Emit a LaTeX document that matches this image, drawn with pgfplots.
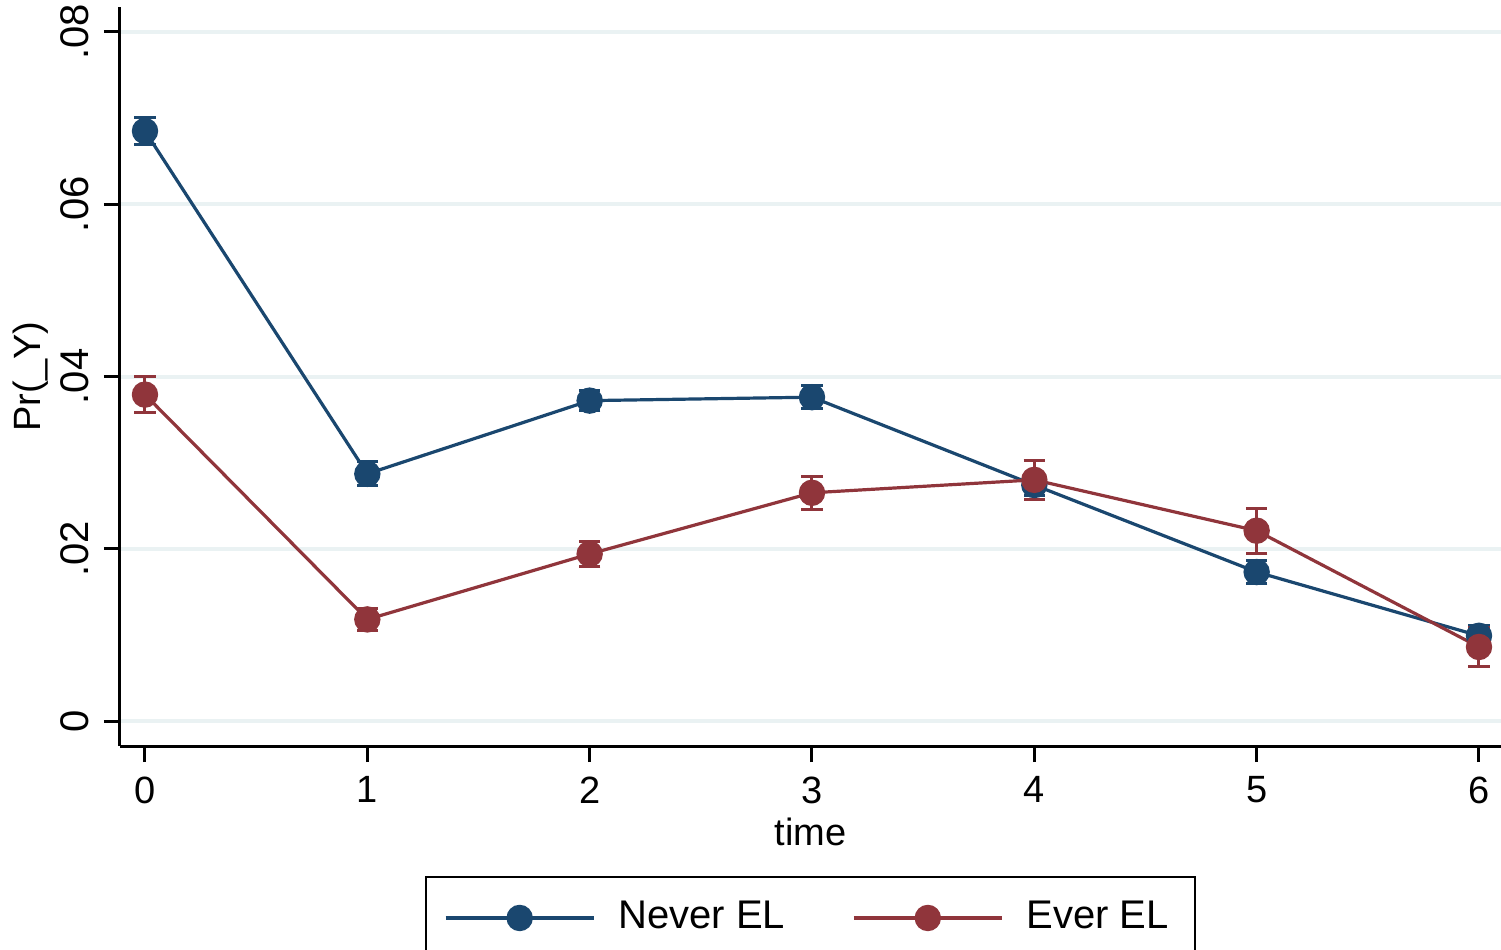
\documentclass[border=0pt]{standalone}
\usepackage{pgfplots}
\usepackage{pgfplotstable}
\pgfplotsset{compat=1.18}
\usepackage{fontspec}
\setmainfont{Liberation Sans}

\definecolor{stnavy}{HTML}{1A476F}
\definecolor{stmaroon}{HTML}{90353B}
\definecolor{stgrid}{HTML}{EAF2F3}

% predicted probability with 95% CI half-width, by time
\pgfplotstableread{
t p e
0 0.0685 0.0016
1 0.0287 0.0014
2 0.0372 0.0012
3 0.0376 0.0013
4 0.0274 0.0012
5 0.0173 0.0013
6 0.0099 0.0012
}\neverEL

\pgfplotstableread{
t p e
0 0.0379 0.0021
1 0.0118 0.0013
2 0.0194 0.0015
3 0.0265 0.0019
4 0.0280 0.0023
5 0.0221 0.0026
6 0.0086 0.0023
}\everEL

\begin{document}
\begin{tikzpicture}
\begin{axis}[
  name=ax,
  scale only axis,
  width=345.25pt, height=184.75pt,
  xmin=-0.1124, xmax=6.099,
  ymin=-0.0029, ymax=0.0829,
  axis x line*=bottom, axis y line*=left,
  axis line style={line width=0.75pt, black},
  tick align=outside,
  major tick length=4pt,
  tick style={line width=0.75pt, black},
  xtick={0,1,2,3,4,5,6},
  ytick={0,0.02,0.04,0.06,0.08},
  yticklabels={0,.02,.04,.06,.08},
  scaled y ticks=false,
  ymajorgrids,
  grid style={stgrid, line width=1pt},
  /pgf/number format/assume math mode=true,
  ticklabel style={font=\fontsize{9.5}{11}\selectfont},
  % rotated labels: a positive yshift moves them away from the axis
  yticklabel style={rotate=90, anchor=south, inner sep=0pt, yshift=3.5pt,
    font=\fontsize{10}{12}\selectfont},
  xticklabel style={anchor=north, inner sep=0pt, yshift=-3.5pt},
  xlabel={time},
  ylabel={Pr(\_Y)},
  label style={font=\fontsize{9.5}{11}\selectfont},
  xlabel style={at={(axis description cs:0.5,-0.1164)}, anchor=center},
  ylabel style={at={(axis description cs:-0.0648,0.5)}, anchor=center, rotate=0},
  legend columns=2,
  legend style={
    at={(axis description cs:0.5,-0.1759)}, anchor=north,
    draw=black, line width=0.6pt,
    font=\fontsize{10}{12}\selectfont,
    inner xsep=4.5pt, inner ysep=4pt,
    /tikz/every odd column/.append style={column sep=3.8pt},
    /tikz/every even column/.append style={column sep=14.75pt},
  },
  legend image code/.code={
    \draw[#1, mark repeat=2, mark phase=2]
      plot coordinates {(0pt,0pt) (18.5pt,0pt) (37pt,0pt)};
  },
  every axis plot/.append style={line width=0.8pt},
  error bars/y dir=both,
  error bars/y explicit,
]
\addplot[stnavy, mark=*, mark size=2.9pt,
  error bars/error bar style={stnavy, line width=0.75pt},
  error bars/error mark options={stnavy, rotate=90, mark size=2.7pt, line width=0.75pt}]
  table[x=t, y=p, y error=e] {\neverEL};
\addlegendentry{Never EL}
\addplot[stmaroon, mark=*, mark size=2.9pt,
  error bars/error bar style={stmaroon, line width=0.75pt},
  error bars/error mark options={stmaroon, rotate=90, mark size=2.7pt, line width=0.75pt}]
  table[x=t, y=p, y error=e] {\everEL};
\addlegendentry{Ever EL}
\end{axis}
\pgfresetboundingbox
\path[use as bounding box] ([xshift=-30pt, yshift=-50.75pt]ax.south west)
  rectangle ([yshift=1.75pt]ax.north east);
\end{tikzpicture}
\end{document}
